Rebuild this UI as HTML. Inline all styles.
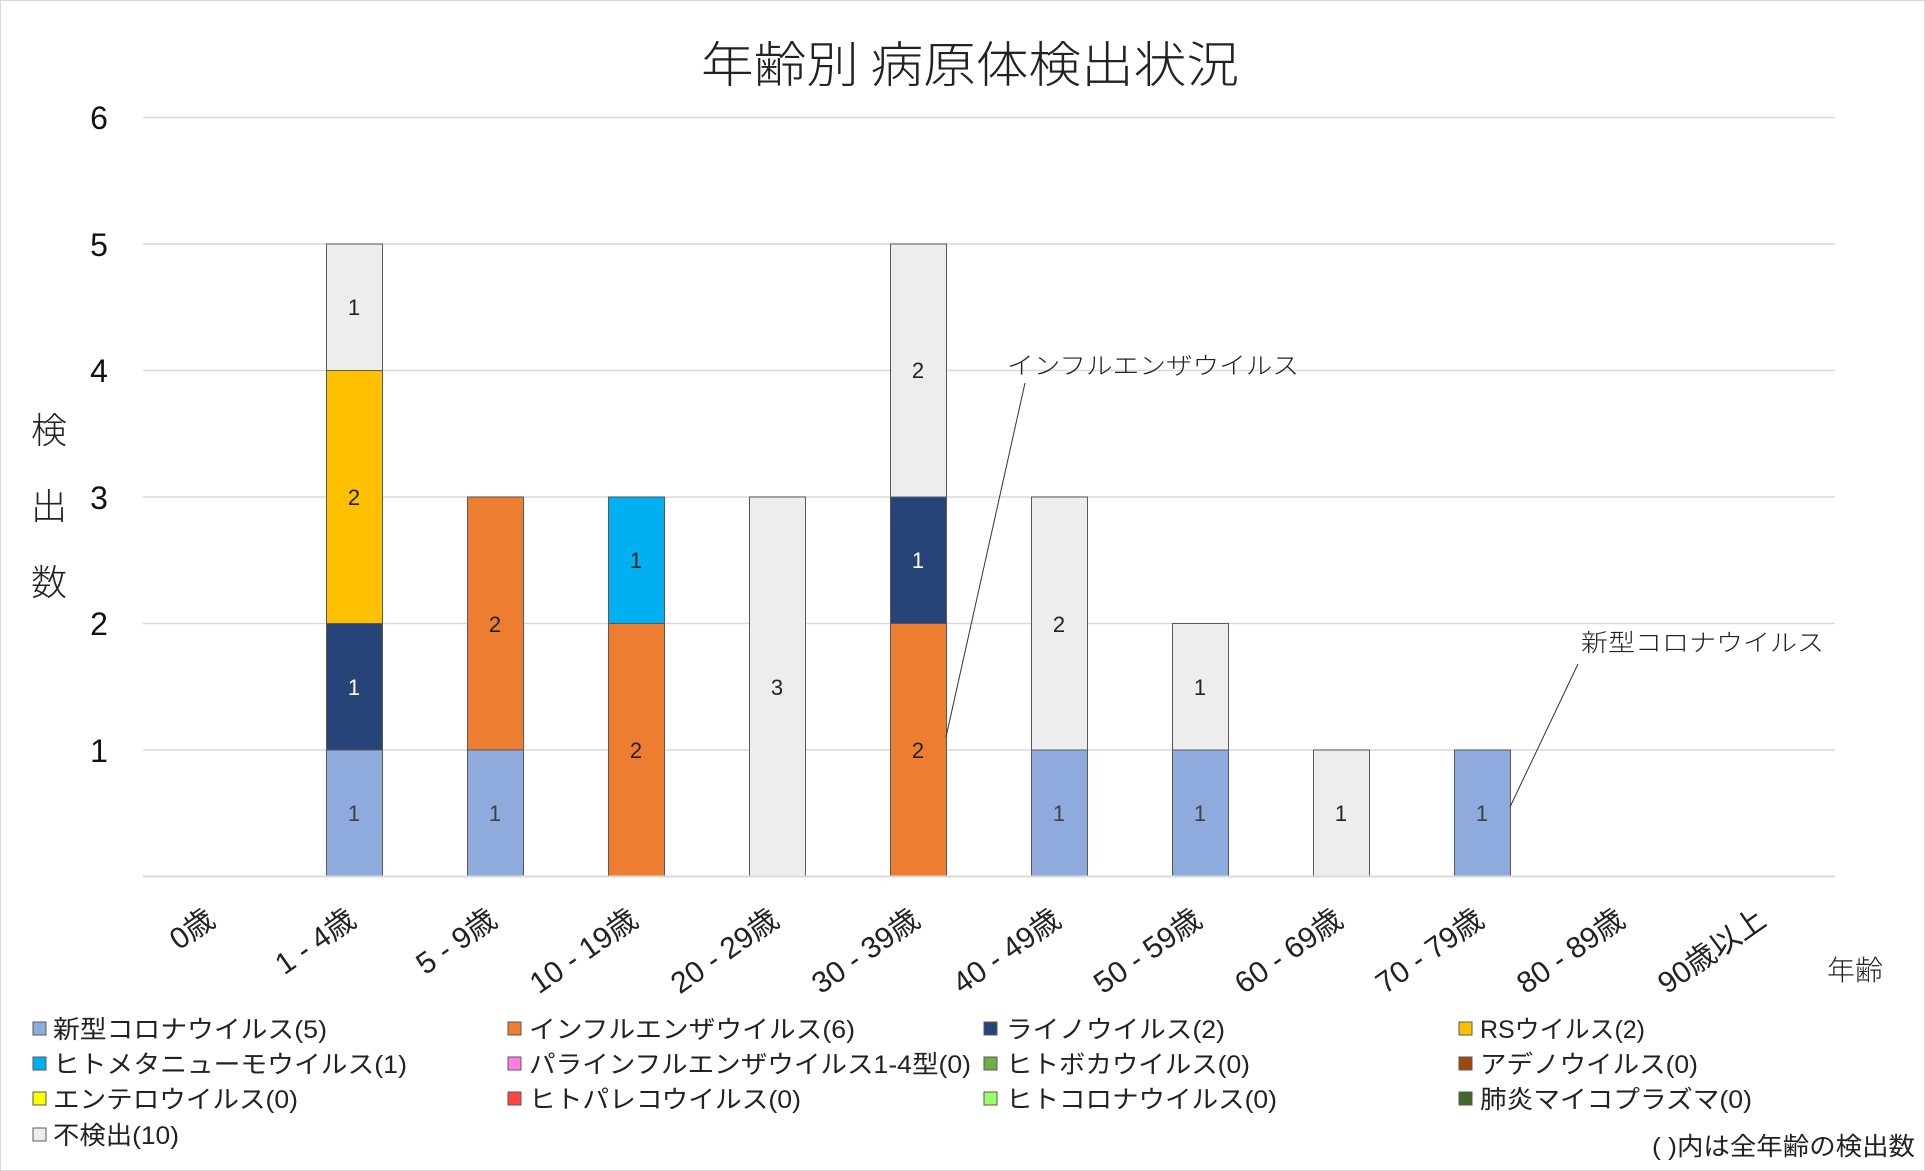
<!DOCTYPE html>
<html><head><meta charset="utf-8"><style>
html,body{margin:0;padding:0;background:#fff;}
svg{display:block;font-family:"Liberation Sans","Noto Sans CJK JP",sans-serif;}
</style></head><body>
<svg width="1925" height="1171" viewBox="0 0 1925 1171" xmlns="http://www.w3.org/2000/svg">
<rect x="0.5" y="0.5" width="1924" height="1170" fill="#fff" stroke="#d9d9d9"/>
<text x="970" y="82" font-size="49" text-anchor="middle" fill="#222" font-family="Noto Sans CJK JP,sans-serif" font-weight="300" textLength="538" lengthAdjust="spacingAndGlyphs">年齢別 病原体検出状況</text>
<g stroke="#d9d9d9" stroke-width="1.5">
<line x1="143" y1="117.5" x2="1835" y2="117.5"/><line x1="143" y1="244" x2="1835" y2="244"/><line x1="143" y1="370.5" x2="1835" y2="370.5"/><line x1="143" y1="497" x2="1835" y2="497"/><line x1="143" y1="623.5" x2="1835" y2="623.5"/><line x1="143" y1="750" x2="1835" y2="750"/><line x1="143" y1="876.5" x2="1835" y2="876.5"/>
</g>
<g font-size="32" fill="#111" text-anchor="middle">
<text x="99" y="129">6</text><text x="99" y="256">5</text><text x="99" y="382">4</text><text x="99" y="509">3</text><text x="99" y="635">2</text><text x="99" y="762">1</text>
</g>
<g font-size="36" fill="#222" text-anchor="middle" font-family="Noto Sans CJK JP,sans-serif" font-weight="300">
<text x="49" y="443">検</text><text x="49" y="519">出</text><text x="49" y="595">数</text>
</g>
<g stroke="#595959" stroke-width="1">
<rect x="326.5" y="750" width="56" height="126.5" fill="#8FAADC"/>
<rect x="326.5" y="623.5" width="56" height="126.5" fill="#264478"/>
<rect x="326.5" y="370.5" width="56" height="253" fill="#FFC000"/>
<rect x="326.5" y="244" width="56" height="126.5" fill="#EDEDED"/>
<rect x="467.5" y="750" width="56" height="126.5" fill="#8FAADC"/>
<rect x="467.5" y="497" width="56" height="253" fill="#ED7D31"/>
<rect x="608.5" y="623.5" width="56" height="253" fill="#ED7D31"/>
<rect x="608.5" y="497" width="56" height="126.5" fill="#00B0F0"/>
<rect x="749.5" y="497" width="56" height="379.5" fill="#EDEDED"/>
<rect x="890.5" y="623.5" width="56" height="253" fill="#ED7D31"/>
<rect x="890.5" y="497" width="56" height="126.5" fill="#264478"/>
<rect x="890.5" y="244" width="56" height="253" fill="#EDEDED"/>
<rect x="1031.5" y="750" width="56" height="126.5" fill="#8FAADC"/>
<rect x="1031.5" y="497" width="56" height="253" fill="#EDEDED"/>
<rect x="1172.5" y="750" width="56" height="126.5" fill="#8FAADC"/>
<rect x="1172.5" y="623.5" width="56" height="126.5" fill="#EDEDED"/>
<rect x="1313.5" y="750" width="56" height="126.5" fill="#EDEDED"/>
<rect x="1454.5" y="750" width="56" height="126.5" fill="#8FAADC"/>
</g>
<line x1="143" y1="876.5" x2="1835" y2="876.5" stroke="#d9d9d9" stroke-width="2"/>
<g font-size="22" text-anchor="middle" fill="#222">
<text x="354" y="821" fill="#404040">1</text><text x="354" y="695" fill="#fff">1</text><text x="354" y="505">2</text><text x="354" y="315">1</text>
<text x="495" y="821" fill="#404040">1</text><text x="495" y="632">2</text>
<text x="636" y="758">2</text><text x="636" y="568">1</text>
<text x="777" y="695">3</text>
<text x="918" y="758">2</text><text x="918" y="568" fill="#fff">1</text><text x="918" y="378">2</text>
<text x="1059" y="821" fill="#404040">1</text><text x="1059" y="632">2</text>
<text x="1200" y="821" fill="#404040">1</text><text x="1200" y="695">1</text>
<text x="1341" y="821">1</text>
<text x="1482" y="821" fill="#404040">1</text>
</g>
<g stroke="#333" stroke-width="1">
<line x1="1025" y1="383" x2="946" y2="737"/>
<line x1="1578" y1="664" x2="1510" y2="807"/>
</g>
<g font-size="24" fill="#222" font-family="Noto Sans CJK JP,sans-serif" font-weight="300">
<text x="1007" y="374" textLength="292" lengthAdjust="spacingAndGlyphs">インフルエンザウイルス</text>
<text x="1581" y="651" textLength="243" lengthAdjust="spacingAndGlyphs">新型コロナウイルス</text>
</g>
<g font-size="30" fill="#222" text-anchor="end">
<text transform="translate(217,924) rotate(-35)">0歳</text>
<text transform="translate(358,924) rotate(-35)">1 - 4歳</text>
<text transform="translate(499,924) rotate(-35)">5 - 9歳</text>
<text transform="translate(640,924) rotate(-35)">10 - 19歳</text>
<text transform="translate(781,924) rotate(-35)">20 - 29歳</text>
<text transform="translate(922,924) rotate(-35)">30 - 39歳</text>
<text transform="translate(1063,924) rotate(-35)">40 - 49歳</text>
<text transform="translate(1204,924) rotate(-35)">50 - 59歳</text>
<text transform="translate(1345,924) rotate(-35)">60 - 69歳</text>
<text transform="translate(1486,924) rotate(-35)">70 - 79歳</text>
<text transform="translate(1627,924) rotate(-35)">80 - 89歳</text>
<text transform="translate(1768,924) rotate(-35)">90歳以上</text>
</g>
<text x="1855" y="980" font-size="28" fill="#222" text-anchor="middle" font-family="Noto Sans CJK JP,sans-serif" font-weight="300">年齢</text>
<g stroke="#595959" stroke-width="1">
<rect x="33" y="1022" width="13" height="13" fill="#8FAADC"/>
<rect x="508" y="1022" width="13" height="13" fill="#ED7D31"/>
<rect x="984" y="1022" width="13" height="13" fill="#264478"/>
<rect x="1459" y="1022" width="13" height="13" fill="#FFC000"/>
<rect x="33" y="1057" width="13" height="13" fill="#00B0F0"/>
<rect x="508" y="1057" width="13" height="13" fill="#FF7FDF"/>
<rect x="984" y="1057" width="13" height="13" fill="#70AD47"/>
<rect x="1459" y="1057" width="13" height="13" fill="#9E480E"/>
<rect x="33" y="1092" width="13" height="13" fill="#FFFF00"/>
<rect x="508" y="1092" width="13" height="13" fill="#FF4343"/>
<rect x="984" y="1092" width="13" height="13" fill="#99FF66"/>
<rect x="1459" y="1092" width="13" height="13" fill="#43682B"/>
<rect x="33" y="1128" width="13" height="13" fill="#EDEDED"/>
</g>
<g font-size="25" fill="#222">
<text x="53" y="1038" textLength="274" lengthAdjust="spacingAndGlyphs">新型コロナウイルス(5)</text>
<text x="529" y="1038" textLength="326" lengthAdjust="spacingAndGlyphs">インフルエンザウイルス(6)</text>
<text x="1006" y="1038" textLength="219" lengthAdjust="spacingAndGlyphs">ライノウイルス(2)</text>
<text x="1480" y="1038" textLength="165" lengthAdjust="spacingAndGlyphs">RSウイルス(2)</text>
<text x="53" y="1073" textLength="354" lengthAdjust="spacingAndGlyphs">ヒトメタニューモウイルス(1)</text>
<text x="529" y="1073" textLength="442" lengthAdjust="spacingAndGlyphs">パラインフルエンザウイルス1-4型(0)</text>
<text x="1006" y="1073" textLength="244" lengthAdjust="spacingAndGlyphs">ヒトボカウイルス(0)</text>
<text x="1480" y="1073" textLength="218" lengthAdjust="spacingAndGlyphs">アデノウイルス(0)</text>
<text x="53" y="1108" textLength="245" lengthAdjust="spacingAndGlyphs">エンテロウイルス(0)</text>
<text x="529" y="1108" textLength="272" lengthAdjust="spacingAndGlyphs">ヒトパレコウイルス(0)</text>
<text x="1006" y="1108" textLength="271" lengthAdjust="spacingAndGlyphs">ヒトコロナウイルス(0)</text>
<text x="1480" y="1108" textLength="272" lengthAdjust="spacingAndGlyphs">肺炎マイコプラズマ(0)</text>
<text x="53" y="1144" textLength="126" lengthAdjust="spacingAndGlyphs">不検出(10)</text>
<text x="1915" y="1155" text-anchor="end" textLength="263" lengthAdjust="spacingAndGlyphs">( )内は全年齢の検出数</text>
</g>
</svg>
</body></html>
